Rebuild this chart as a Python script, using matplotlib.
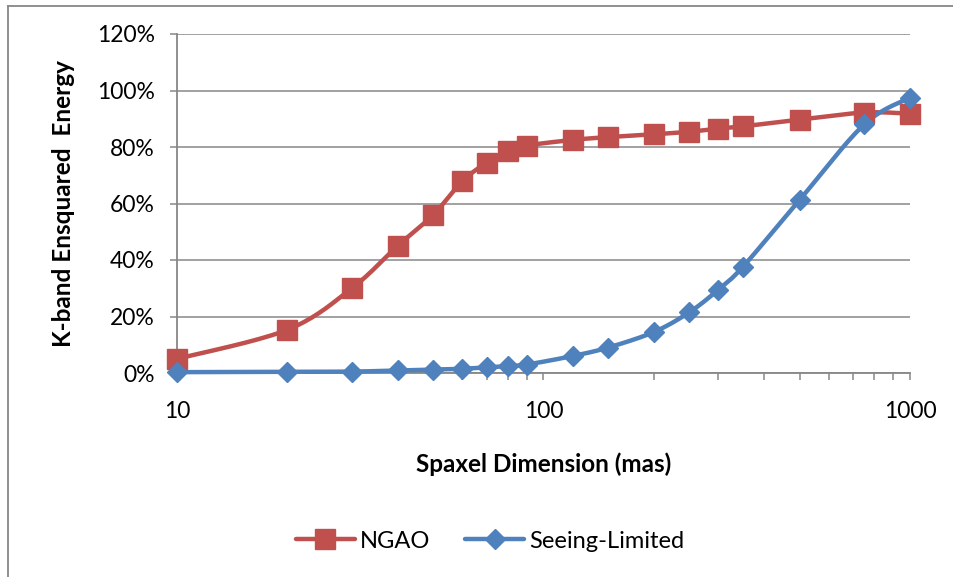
import numpy as np
import matplotlib
matplotlib.use("Agg")
import matplotlib.pyplot as plt
from matplotlib.lines import Line2D
from matplotlib.ticker import FixedLocator, FuncFormatter, NullFormatter

plt.rcParams['font.family'] = ['Lato', 'DejaVu Sans']

spaxel = [10, 20, 30, 40, 50, 60, 70, 80, 90, 120, 150, 200, 250, 300, 350, 500, 750, 1000]
ngao = [5.0, 15.3, 30.0, 45.0, 56.0, 67.8, 74.5, 78.5, 80.5, 82.5, 83.5, 84.5, 85.4, 86.5, 87.3, 89.7, 92.2, 91.8]
seeing = [0.3, 0.4, 0.5, 0.9, 1.2, 1.5, 2.0, 2.5, 3.0, 6.0, 9.0, 14.5, 21.5, 29.5, 37.6, 61.3, 88.0, 97.5]
series_names = ["NGAO", "Seeing-Limited"]
yticks = [0, 20, 40, 60, 80, 100, 120]
xticks = [10, 100, 1000]

RED = "#C0504D"
BLUE = "#4F81BD"
GRID = "#878787"

W, H = 954, 577
fig = plt.figure(figsize=(W / 100, H / 100), dpi=100)
ax = fig.add_axes([177 / W, 1 - 373 / H, (910 - 177) / W, (373 - 34) / H])


def smooth(x, y, n=20):
    # Catmull-Rom smoothing in (log10 x, y) space, like Excel's smoothed lines
    lx = np.log10(np.asarray(x, float))
    yy = np.asarray(y, float)
    P = np.column_stack([lx, yy])
    P = np.vstack([P[0], P, P[-1]])
    out = []
    for i in range(1, len(P) - 2):
        p0, p1, p2, p3 = P[i - 1], P[i], P[i + 1], P[i + 2]
        c1 = p1 + (p2 - p0) / 6.0
        c2 = p2 - (p3 - p1) / 6.0
        t = np.linspace(0, 1, n)[:, None]
        seg = ((1 - t) ** 3) * p1 + 3 * ((1 - t) ** 2) * t * c1 + 3 * (1 - t) * t ** 2 * c2 + t ** 3 * p2
        out.append(seg if i == 1 else seg[1:])
    S = np.vstack(out)
    return 10 ** S[:, 0], S[:, 1]


for vals, col, mk, ms in [(ngao, RED, 's', 15), (seeing, BLUE, 'D', 10.5)]:
    sx, sy = smooth(spaxel, vals)
    ax.plot(sx, sy, color=col, lw=3.2, solid_capstyle='round', zorder=3, clip_on=False)
    ax.plot(spaxel, vals, ls='none', marker=mk, ms=ms, color=col, mec=col, zorder=4, clip_on=False)

ax.set_xscale('log')
ax.set_xlim(10, 1000)
ax.set_ylim(0, 120)
ax.yaxis.set_major_locator(FixedLocator(yticks))
ax.yaxis.set_major_formatter(FuncFormatter(lambda v, p: f"{int(v)}%"))
ax.xaxis.set_major_locator(FixedLocator(xticks))
ax.xaxis.set_major_formatter(FuncFormatter(lambda v, p: f"{int(v)}"))
ax.xaxis.set_minor_formatter(NullFormatter())

ax.grid(axis='y', color=GRID, lw=1.1)
ax.set_axisbelow(True)
for s in ['top', 'right']:
    ax.spines[s].set_visible(False)
for s in ['left', 'bottom']:
    ax.spines[s].set_color(GRID)
    ax.spines[s].set_linewidth(1.3)
ax.tick_params(axis='y', length=5, width=1.1, color=GRID, labelsize=16.5, pad=11, labelcolor='black')
ax.tick_params(axis='x', which='both', length=5, width=1.1, color=GRID, labelsize=16.5, pad=15, labelcolor='black')

ax.set_ylabel("K-band Ensquared  Energy", fontsize=17.5, fontweight='bold', labelpad=16)
ax.set_xlabel("Spaxel Dimension (mas)", fontsize=17.5, fontweight='bold', labelpad=22)

handles = [
    Line2D([], [], color=RED, lw=3.2, marker='s', ms=15, solid_capstyle='round'),
    Line2D([], [], color=BLUE, lw=3.2, marker='D', ms=10.5, solid_capstyle='round'),
]
fig.legend(handles, series_names, loc='center', bbox_to_anchor=(490 / W, 1 - 541 / H),
           ncol=2, frameon=False, fontsize=17, handlelength=2.5, columnspacing=1.5, handletextpad=0.2)

# chart area border (top and left visible)
fig.add_artist(Line2D([8 / W, 1], [1 - 6 / H, 1 - 6 / H], transform=fig.transFigure, color=GRID, lw=1.3))
fig.add_artist(Line2D([8 / W, 8 / W], [1 - 6 / H, 0], transform=fig.transFigure, color=GRID, lw=1.3))

fig.savefig("out.png", dpi=100)
